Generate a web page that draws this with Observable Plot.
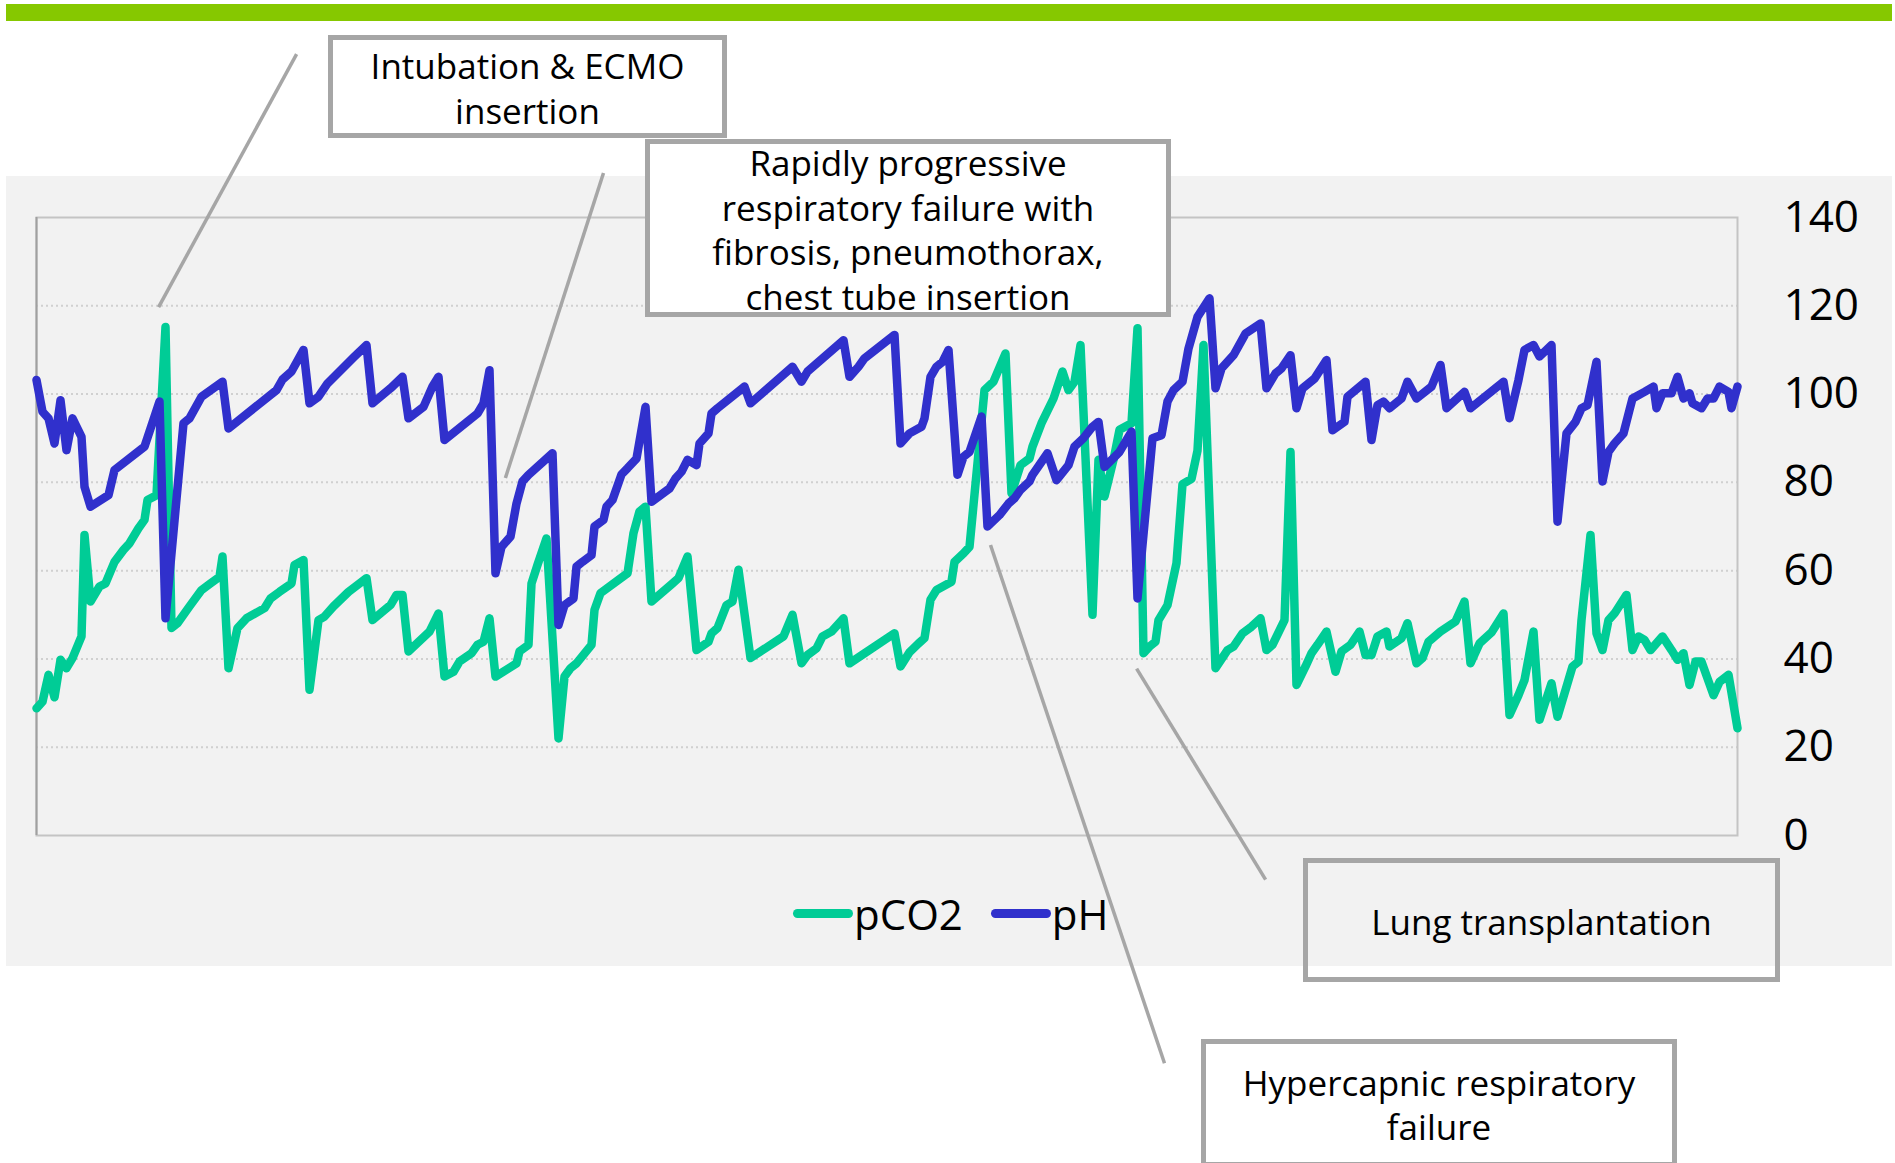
<!DOCTYPE html>
<html>
<head>
<meta charset="utf-8">
<script src="https://cdn.jsdelivr.net/npm/d3@7"></script>
<script src="https://cdn.jsdelivr.net/npm/@observablehq/plot@0.6"></script>
<style>
html, body { margin: 0; padding: 0; background: #ffffff; }
#page { position: relative; width: 1895px; height: 1163px; overflow: hidden; font-family: "Open Sans", "Noto Sans", sans-serif; color: #000; }
#topbar { position: absolute; left: 6px; top: 4px; width: 1886px; height: 17px; background: #86c800; }
#panel { position: absolute; left: 6px; top: 176px; width: 1886px; height: 790px; background: #f2f2f2; }
#chart { position: absolute; left: 0; top: 0; }
.box { position: absolute; box-sizing: border-box; border: 5px solid #a6a6a6; display: flex; align-items: center; justify-content: center; text-align: center; font-size: 35px; line-height: 44.5px; color: #000; padding-top: 4px; }
#legend { position: absolute; left: 793px; top: 888px; height: 50px; display: flex; align-items: center; font-size: 42px; color: #000; }
.sw { display: inline-block; width: 60px; height: 9px; border-radius: 5px; }
</style>
</head>
<body>
<div id="page">
  <div id="topbar"></div>
  <div id="panel"></div>
  <div id="chart"></div>
  <div id="legend"></div>
</div>
<script>
// pH series: sample index and value
const phT = [0,2,4,6,8,10,12,15,16,18,24,26,36,41,43,49,51,55,62,64,80,82,85,89,91,94,97,106,110,112,118,122,124,129,132,134,136,147,149,151,153,155,158,160,162,164,172,174,176,179,180,182,185,186,189,190,192,195,197,200,203,205,211,213,215,217,220,221,224,225,227,236,238,252,255,257,269,271,274,276,286,288,291,295,296,298,300,302,304,307,309,311,315,317,321,324,326,328,331,332,337,340,344,346,349,352,354,356,361,365,367,372,375,377,379,382,384,387,391,393,395,399,403,408,410,413,415,418,420,422,426,430,432,436,437,443,445,447,449,451,455,457,460,465,468,470,476,478,489,491,494,496,499,501,505,507,510,513,515,517,520,522,524,526,529,531,532,536,539,540,542,545,547,549,551,552,555,557,559,561,564,565,567];
const phV = [103.2,96,94.5,88.8,98.6,87.3,94.5,90.3,79,74.5,77.1,82.8,88.1,98.3,49.2,93.4,94.5,99.4,102.8,92.2,100.9,103.3,105.1,110,97.9,99.4,102.4,108.5,111.1,97.9,101.3,103.9,94.5,97.1,101.7,103.9,89.6,95.6,97.9,105.4,59.4,65.4,67.7,75.2,80.2,81.7,86.6,47.7,52.2,53.7,60.9,62,63.5,70,71.5,74.5,76,81.8,83.2,85.4,97.1,75.6,78.6,80.9,82.4,85.1,83.9,88.8,91.1,95.6,96.8,101.7,97.9,106.2,102.8,105.1,112.2,103.9,106.2,108.1,113.4,88.8,91.1,92.6,94.5,103.9,106.2,107.3,110,81.7,85.8,86.9,94.9,70,72.6,75.2,76.4,78.3,80.2,81.7,86.6,80.5,83.9,88.1,90,92.6,93.7,83.5,86.9,91.5,53.7,90,90.7,98.3,100.9,102.8,110.3,117.5,121.7,101.3,105.8,108.8,113.7,116,101.3,104.7,105.8,108.8,96.8,101.3,103.5,107.7,91.8,93.7,99.4,102.8,89.6,97.5,98.3,96.8,99,102.8,99,101.7,106.6,96.8,100.5,96.8,102.8,94.5,103.2,110,111.1,108.5,111.1,71.1,91.1,93.7,96.8,97.5,107.3,80.2,86.9,88.8,91.1,96.4,99,100.5,101.7,96.8,100.2,100.2,103.9,99,100.2,97.9,96.8,99,99,101.7,100.5,96.8,101.7];

// pCO2 series: sample index and value
const pco2T = [0,2,4,6,8,10,12,15,16,18,21,23,26,29,31,34,36,37,40,43,45,47,51,55,58,61,62,64,67,70,76,78,81,85,86,89,91,94,96,99,104,110,112,118,120,122,124,131,134,136,139,141,145,147,149,151,153,160,161,164,165,167,170,174,176,178,180,185,186,188,197,199,201,203,205,212,214,217,220,224,225,227,230,232,234,238,249,252,255,257,260,262,265,269,271,286,288,291,294,296,298,300,305,306,309,311,316,319,323,325,328,331,332,335,339,342,344,346,348,352,354,356,359,361,365,367,369,371,373,374,377,380,382,385,387,389,393,397,399,402,405,408,410,412,416,418,420,423,425,427,430,433,435,438,441,443,445,447,450,451,455,457,460,462,464,468,473,476,478,481,485,489,491,494,496,499,501,505,507,510,512,514,515,518,520,522,524,526,530,532,534,536,538,542,545,547,549,551,553,555,559,561,564,567];
const pco2V = [28.8,30.3,36.4,31.3,39.8,37.9,40.2,45.1,68.1,53,56.4,57.1,62,64.7,66.2,69.6,71.5,76,77.1,115.2,47,48.1,51.9,55.6,57.1,58.6,63.2,37.9,47,49.2,51.5,53.7,55.2,57.1,61.3,62.4,33,48.8,49.6,51.9,55.2,58.3,48.8,52.2,54.5,54.5,41.7,46.2,50.3,36,37.1,39.4,41.3,43.2,43.9,49.2,36,39,41.7,43.2,57.1,61.3,67.3,22,36,37.9,39,43.2,51.1,54.9,59.4,68.5,73.4,74.5,53,57.1,58.3,63.2,42,43.9,45.8,47,52.2,53,60.2,40.2,45.1,50,39,40.9,42.4,45.1,46.2,49.2,39,45.8,38.3,41.5,43.5,44.7,53.4,55.6,57.5,62,63.9,65.4,100.9,102.8,109.2,77.5,83.9,85.4,88.1,93.4,99,105.1,100.9,102.8,111.1,50,85.1,76.8,85.1,91.9,93.4,114.9,41.3,42.8,43.9,48.8,52.2,61.7,79.6,80.8,87.2,111.1,37.9,42,42.8,45.8,47.3,49.2,42,43.2,48.8,86.9,34.1,38.3,41.3,43.2,46.2,37.1,41.7,43.2,46.2,40.9,40.9,45.1,46.2,42.8,44.7,48.1,39,40.2,43.9,46.2,48.5,53,39,43.5,46,50.3,27.3,31.8,35.2,46.2,26.2,34.5,26.9,33.7,38.3,39.4,48.8,68.1,45.8,42,48.8,50.3,54.5,42,45.1,44.3,42,45.1,42,39.8,41.3,34.1,39.4,39.4,31.8,34.8,36.4,24.3];

const yTicks = [0, 20, 40, 60, 80, 100, 120, 140];
const gridValues = [20, 40, 60, 80, 100, 120];
const seriesNames = ["pCO2", "pH"];
const seriesColors = ["#00cc96", "#3030cc"];

// annotation boxes and leader lines (leader ends in chart units: sample index, value)
const noteTexts = [
  ["Intubation & ECMO", "insertion"],
  ["Rapidly progressive", "respiratory failure with", "fibrosis, pneumothorax,", "chest tube insertion"],
  ["Lung transplantation"],
  ["Hypercapnic respiratory", "failure"]
];
const leaderX1 = [86.7, 189, 318, 366.7];
const leaderY1 = [177, 150.1, 65.8, 37.8];
const leaderX2 = [40.7, 156.3, 376, 409.7];
const leaderY2 = [119.7, 81.0, -51.6, -10.0];

const pco2 = pco2T.map((t, i) => ({t, v: pco2V[i]}));
const ph = phT.map((t, i) => ({t, v: phV[i]}));
const leaders = leaderX1.map((x, i) => ({x1: x, y1: leaderY1[i], x2: leaderX2[i], y2: leaderY2[i]}));

const chart = Plot.plot({
  width: 1895,
  height: 1163,
  marginLeft: 36,
  marginRight: 158,
  marginTop: 217,
  marginBottom: 328,
  x: {domain: [0, 567], axis: null},
  y: {domain: [0, 140], axis: null},
  style: {background: "transparent", fontFamily: "'Open Sans', 'Noto Sans', sans-serif", color: "#000", overflow: "visible"},
  marks: [
    Plot.ruleY(gridValues, {stroke: "#d0d0d0", strokeWidth: 2, strokeDasharray: "2,3"}),
    Plot.frame({stroke: "#c4c4c4", strokeWidth: 2}),
    Plot.ruleX([0], {stroke: "#a0a0a0", strokeWidth: 2}),
    Plot.line(pco2, {x: "t", y: "v", stroke: seriesColors[0], strokeWidth: 8.5, strokeLinejoin: "round", strokeLinecap: "round"}),
    Plot.line(ph, {x: "t", y: "v", stroke: seriesColors[1], strokeWidth: 8.5, strokeLinejoin: "round", strokeLinecap: "round"}),
    Plot.link(leaders, {x1: "x1", y1: "y1", x2: "x2", y2: "y2", stroke: "#a6a6a6", strokeWidth: 3.5}),
    Plot.axisY({anchor: "right", ticks: yTicks, tickSize: 0, tickPadding: 46, fontSize: 44, textAnchor: "start", label: null, fill: "#000"})
  ]
});
document.getElementById("chart").appendChild(chart);

// legend
const legend = document.getElementById("legend");
seriesNames.forEach((name, i) => {
  const sw = document.createElement("span");
  sw.className = "sw";
  sw.style.background = seriesColors[i];
  legend.appendChild(sw);
  const tx = document.createElement("span");
  tx.textContent = name;
  tx.style.marginLeft = "1px";
  tx.style.marginRight = i === 0 ? "28px" : "0";
  legend.appendChild(tx);
});

// annotation boxes
const boxSpecs = [
  {left: 328, top: 35, width: 399, height: 103, bg: "#ffffff"},
  {left: 645, top: 139, width: 526, height: 178, bg: "#ffffff"},
  {left: 1303, top: 858, width: 477, height: 124, bg: "transparent"},
  {left: 1201, top: 1039, width: 476, height: 128, bg: "#ffffff"}
];
const page = document.getElementById("page");
noteTexts.forEach((lines, i) => {
  const b = boxSpecs[i];
  const d = document.createElement("div");
  d.className = "box";
  d.style.left = b.left + "px";
  d.style.top = b.top + "px";
  d.style.width = b.width + "px";
  d.style.height = b.height + "px";
  d.style.background = b.bg;
  const inner = document.createElement("div");
  lines.forEach((ln, j) => {
    if (j > 0) inner.appendChild(document.createElement("br"));
    inner.appendChild(document.createTextNode(ln));
  });
  d.appendChild(inner);
  page.appendChild(d);
});
</script>
</body>
</html>
